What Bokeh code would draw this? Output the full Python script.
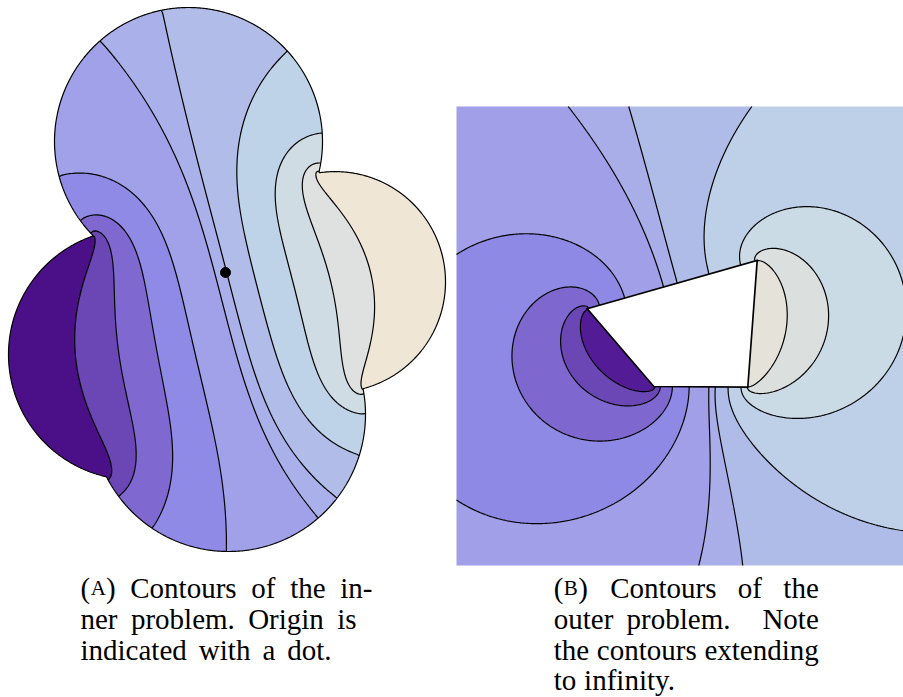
import numpy as np
from bokeh.plotting import figure
from bokeh.layouts import row
from bokeh.models import Range1d
from bokeh.embed import file_html
from bokeh.resources import INLINE
from bokeh.core.properties import value

# ---------------------------------------------------------------- data
# Inner problem: the domain is the union of four discs (centre, radius).
disc_x = [-0.37, 0.03, -0.917, 1.097]
disc_y = [1.31, -1.42, -0.82, -0.094]
disc_r = [1.34, 1.37, 1.253, 1.103]
# potential held on the exposed arc of each disc (None = insulated arc)
disc_potential = [None, None, 0.0, 1.0]

# Outer problem: quadrilateral obstacle, vertices clockwise (TL, TR, BR, BL).
quad_x = [-0.853, 0.847, 0.753, -0.187]
quad_y = [0.147, 0.630, -0.637, -0.630]
# potential on faces TL-TR, TR-BR, BR-BL, BL-TL (None = insulated face)
face_potential = [None, 1.0, None, 0.0]

# contour levels of the potential
inner_levels = [0.112, 0.210, 0.305, 0.399, 0.500, 0.531, 0.600, 0.696, 0.792, 0.886]
outer_levels = [0.142, 0.227, 0.329, 0.424, 0.517, 0.546, 0.615, 0.708, 0.794, 0.886]

inner_colors = ["#4b1087", "#6a47b4", "#7f68cf", "#8f8ae5", "#a0a1e8", "#aab0ea",
                "#b1bde8", "#bed2e8", "#cfdce3", "#dee1df", "#efe6d6"]
outer_colors = ["#531c96", "#6a47b4", "#7e67ce", "#8e89e5", "#a09fe7", "#a9aee9",
                "#b0bce8", "#bed0e8", "#cbdbe6", "#dbe0df", "#e5e3d9"]


# ---------------------------------------------------------------- solver
def relax(U, fixed, wall, sweeps, omega):
    """Red-black SOR for Laplace's equation; walls are zero-flux."""
    valid = (~wall).astype(float)
    wE, wW = valid[1:-1, 2:], valid[1:-1, :-2]
    wN, wS = valid[2:, 1:-1], valid[:-2, 1:-1]
    cnt = wE + wW + wN + wS
    free = (~fixed & ~wall)[1:-1, 1:-1] & (cnt > 0)
    cnt[cnt == 0] = 1.0
    ii, jj = np.indices(free.shape)
    colours = [omega * (free & ((ii + jj) % 2 == k)) for k in (0, 1)]
    U[wall] = 0.0
    C = U[1:-1, 1:-1]
    for _ in range(sweeps):
        for m in colours:
            avg = (wE * U[1:-1, 2:] + wW * U[1:-1, :-2]
                   + wN * U[2:, 1:-1] + wS * U[:-2, 1:-1]) / cnt
            C += m * (avg - C)
    return U


def extend(U, known, passes):
    U = U.copy()
    known = known.copy()
    for _ in range(passes):
        P = np.pad(np.where(known, U, 0.0), 1)
        K = np.pad(known.astype(float), 1)
        s = P[1:-1, 2:] + P[1:-1, :-2] + P[2:, 1:-1] + P[:-2, 1:-1]
        c = K[1:-1, 2:] + K[1:-1, :-2] + K[2:, 1:-1] + K[:-2, 1:-1]
        new = ~known & (c > 0)
        U[new] = s[new] / c[new]
        known |= new
    return U, known


def bilinear(xs, ys, Z, xq, yq):
    fx = np.clip((xq - xs[0]) / (xs[1] - xs[0]), 0, len(xs) - 1.000001)
    fy = np.clip((yq - ys[0]) / (ys[1] - ys[0]), 0, len(ys) - 1.000001)
    j0 = np.floor(fx).astype(int)
    i0 = np.floor(fy).astype(int)
    tx, ty = fx - j0, fy - i0
    return (Z[i0, j0] * (1 - tx) * (1 - ty) + Z[i0, j0 + 1] * tx * (1 - ty)
            + Z[i0 + 1, j0] * (1 - tx) * ty + Z[i0 + 1, j0 + 1] * tx * ty)


def grid(x0, x1, y0, y1, h):
    xs = np.linspace(x0, x1, int(round((x1 - x0) / h)) + 1)
    ys = np.linspace(y0, y1, int(round((y1 - y0) / h)) + 1)
    return xs, ys, *np.meshgrid(xs, ys)


def disc_distance(X, Y):
    return np.stack([np.hypot(X - cx, Y - cy) - r
                     for cx, cy, r in zip(disc_x, disc_y, disc_r)])


def inner_masks(X, Y):
    d = disc_distance(X, Y)
    inside = d.min(0) < 0
    near = d.argmin(0)
    fixed = np.zeros(X.shape, bool)
    vals = np.zeros(X.shape)
    for k, pot in enumerate(disc_potential):
        if pot is not None:
            sel = ~inside & (near == k)
            fixed |= sel
            vals[sel] = pot
    return inside, fixed, vals, ~inside & ~fixed


def solve_inner():
    prev = None
    for h, sweeps in [(0.08, 800), (0.04, 400), (0.02, 500)]:
        xs, ys, X, Y = grid(-2.3, 2.3, -2.9, 2.8, h)
        inside, fixed, vals, wall = inner_masks(X, Y)
        U = np.clip((X + 1.6) / 3.2, 0, 1) if prev is None else bilinear(*prev, X, Y)
        U[fixed] = vals[fixed]
        U = relax(U, fixed, wall, sweeps, 1.9)
        Ue, known = extend(U, ~wall, 60)
        Ue[~known] = 0.5
        prev = (xs, ys, Ue)
    Z, known = extend(U, inside, 3)
    Z[~known] = np.nan
    return xs, ys, Z


def seg_dist(X, Y, ax, ay, bx, by):
    dx, dy = bx - ax, by - ay
    t = np.clip(((X - ax) * dx + (Y - ay) * dy) / (dx * dx + dy * dy), 0, 1)
    return np.hypot(X - ax - t * dx, Y - ay - t * dy)


def outer_masks(X, Y):
    n = len(quad_x)
    inpoly = np.ones(X.shape, bool)
    dists = []
    for k in range(n):
        ax, ay = quad_x[k], quad_y[k]
        bx, by = quad_x[(k + 1) % n], quad_y[(k + 1) % n]
        inpoly &= (bx - ax) * (Y - ay) - (by - ay) * (X - ax) < 0
        dists.append(seg_dist(X, Y, ax, ay, bx, by))
    near = np.argmin(dists, 0)
    fixed = np.zeros(X.shape, bool)
    vals = np.zeros(X.shape)
    for k, pot in enumerate(face_potential):
        if pot is not None:
            sel = inpoly & (near == k)
            fixed |= sel
            vals[sel] = pot
    return inpoly, fixed, vals, inpoly & ~fixed


# visible window of the outer problem
VIEW = (-2.16, 2.31, -2.42, 2.17)


def solve_outer():
    # nested boxes: a large insulated box first, then finer boxes closer in
    stages = [((-16, 16, -16, 16), 0.16, 1200), ((-6, 6, -6, 6), 0.06, 400),
              ((-3, 3, -3, 3), 0.03, 400), (VIEW, 0.015, 500)]
    prev = None
    for (x0, x1, y0, y1), h, sweeps in stages:
        xs, ys, X, Y = grid(x0, x1, y0, y1, h)
        inpoly, fixed, vals, wall = outer_masks(X, Y)
        ring = np.zeros(X.shape, bool)
        ring[0, :] = ring[-1, :] = ring[:, 0] = ring[:, -1] = True
        if prev is None:
            U = np.full(X.shape, 0.5)
            wall = wall | ring
        else:
            U = bilinear(*prev, X, Y)
            vals = np.where(ring, U, vals)
            fixed = fixed | ring
        U[fixed] = vals[fixed]
        U = relax(U, fixed, wall, sweeps, 1.9)
        Ue, known = extend(U, ~wall, 60)
        Ue[~known] = 0.5
        prev = (xs, ys, Ue)
    Z, known = extend(U, ~inpoly, 3)
    Z[~known] = np.nan
    return xs, ys, Z


ixs, iys, iZ = solve_inner()
oxs, oys, oZ = solve_outer()

# ---------------------------------------------------------------- inner panel
p1 = figure(width=450, height=697, x_range=Range1d(-2.25, 2.25), y_range=Range1d(-4.25, 2.72),
            output_backend="svg", toolbar_location=None, min_border=0,
            x_axis_location=None, y_axis_location=None)
p1.grid.visible = False
p1.outline_line_color = None

p1.contour(ixs, iys, np.ma.masked_invalid(iZ), levels=[-1.0] + inner_levels + [2.0],
           fill_color=inner_colors, line_color="black", line_width=1.2)

# white out everything outside the union of discs, then draw its outline
mx = np.linspace(-2.25, 2.25, 451)
my = np.linspace(-4.25, 2.72, 698)
MX, MY = np.meshgrid(mx, my)
sdf = disc_distance(MX, MY).min(0)
p1.contour(mx, my, sdf, levels=[0.0, 100.0], fill_color="white", line_color=None)
p1.contour(mx, my, sdf, levels=[0.0], line_color="black", line_width=1.2)
p1.scatter([0.0], [0.0], size=10, color="black")

# ---------------------------------------------------------------- outer panel
p2 = figure(width=453, height=697, x_range=Range1d(-2.22, 2.31), y_range=Range1d(-3.74, 3.23),
            output_backend="svg", toolbar_location=None, min_border=0,
            x_axis_location=None, y_axis_location=None)
p2.grid.visible = False
p2.outline_line_color = None

p2.contour(oxs, oys, np.ma.masked_invalid(oZ), levels=[-1.0] + outer_levels + [2.0],
           fill_color=outer_colors, line_color="black", line_width=1.2)
p2.patch(quad_x, quad_y, fill_color="white", line_color="black", line_width=1.7,
         line_join="miter")

# ---------------------------------------------------------------- captions
FONT = value("Liberation Serif")


def caption(p, words, x_of, y_of, size="29px", align="left"):
    p.text(x=[x_of(w[1]) for w in words], y=[y_of(w[2]) for w in words],
           text=[w[0] for w in words], text_font=FONT, text_font_size=size,
           text_baseline="alphabetic", text_align=align, text_color="black")


lx = lambda px: (px - 225) / 100
ly = lambda py: (272 - py) / 100
caption(p1, [("(", 80, 587), (")", 105.6, 587),
             ("ner", 80, 618), ("indicated", 80, 649)], lx, ly)
caption(p1, [("Contours", 182.9, 587), ("of", 262.9, 587), ("the", 307.4, 587),
             ("problem.", 182.4, 618), ("Origin", 285.5, 618),
             ("with", 224.1, 649), ("a", 268.4, 649), ("dot.", 308.9, 649)],
        lx, ly, align="center")
caption(p1, [("in-", 372, 587), ("is", 356, 618)], lx, ly, align="right")
caption(p1, [("A", 90.2, 587)], lx, ly, size="21px")

rx = lambda px: (px - 672) / 100
ry = lambda py: (323 - py) / 100
caption(p2, [("(", 553.3, 587), (")", 577.8, 587),
             ("outer", 553.3, 618), ("the", 553.3, 649), ("to", 553.3, 679)], rx, ry)
caption(p2, [("Contours", 662.8, 587), ("of", 749.4, 587),
             ("problem.", 678, 618), ("contours", 646.3, 649),
             ("infinity.", 629, 679)], rx, ry, align="center")
caption(p2, [("the", 818.3, 587), ("Note", 818.3, 618), ("extending", 818.3, 649)],
        rx, ry, align="right")
caption(p2, [("B", 563.3, 587)], rx, ry, size="21px")

layout = row(p1, p2)
open("out.html", "w").write(file_html(layout, INLINE))
